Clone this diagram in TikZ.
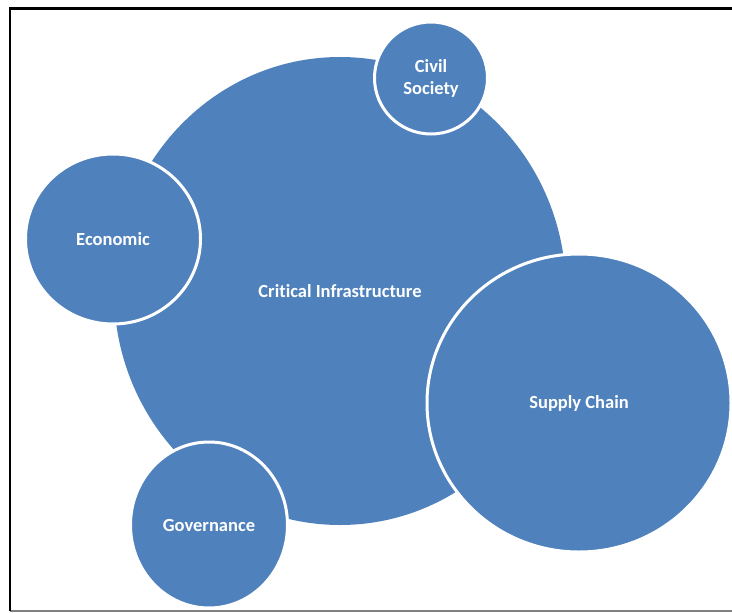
\documentclass[tikz,border=0pt]{standalone}
\usepackage{fontspec}
\setmainfont{Carlito}[Ligatures=NoCommon]
\usetikzlibrary{shapes.geometric}
\definecolor{bubbleBlue}{RGB}{79,129,189}
\tikzset{bubble/.style = {ellipse, fill=bubbleBlue, text=white, inner sep=0pt,
    font=\fontsize{18.5bp}{22bp}\selectfont\bfseries, align=center},
  ring/.style = {draw=white, line width=3bp},
  frameLine/.style = {line width=2.5bp}}

\begin{document}
\begin{tikzpicture}[x=1bp, y=-1bp]
  \useasboundingbox (0,0) rectangle (732,613);

  % page frame
  \coordinate (frameTR) at (732,8.5);
  \coordinate (frameTL) at (10,8.5);
  \coordinate (frameBL) at (10,611);
  \coordinate (frameBR) at (732,611);
  \draw[frameLine, gray] (frameBL) -- (frameBR);
  \draw[frameLine] (frameTR) -- (frameTL) -- (frameBL);

  \node[bubble, minimum width=452bp, minimum height=468bp] (infra) at (340,291) {Critical Infrastructure};

  \node[bubble, ring, minimum width=175bp, minimum height=170bp] (economic) at (113,239) {Economic};
  \node[bubble, ring, minimum width=113bp, minimum height=112bp] (civil) at (431,78) {Civil\\Society};
  \node[bubble, ring, minimum width=157bp, minimum height=166bp] (governance) at (209,525) {Governance};
  \node[bubble, ring, minimum width=304bp, minimum height=298bp] (supply) at (579,403) {Supply Chain};

\end{tikzpicture}
\end{document}
